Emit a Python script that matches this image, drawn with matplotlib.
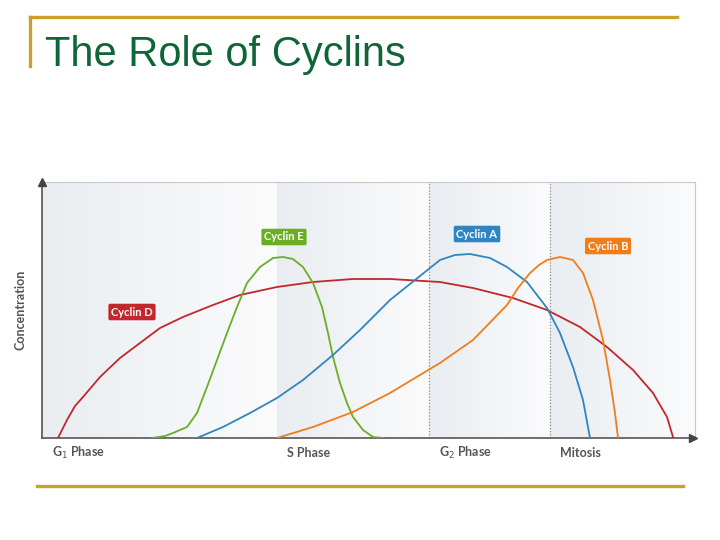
import numpy as np
import matplotlib
matplotlib.use("Agg")
import matplotlib.pyplot as plt
from matplotlib.lines import Line2D

# data (x = time along the cycle, y = concentration), arbitrary units
cyclin_d_x = [16, 21, 25, 33, 41, 58, 78, 98, 118, 141, 171, 198, 235, 271, 311, 348, 398, 431, 471, 505, 538, 565, 591, 611, 625, 631]
cyclin_d_y = [0, 10, 18, 32, 41, 61, 80, 95, 110, 121, 133, 143, 151, 156, 159, 159, 156, 150, 140, 128, 111, 91, 68, 45, 21, 1]

cyclin_e_x = [110, 123, 131, 145, 155, 165, 175, 185, 195, 205, 218, 231, 241, 251, 261, 271, 280, 286, 291, 298, 305, 311, 321, 331, 341]
cyclin_e_y = [0, 2, 5, 11, 25, 51, 78, 105, 131, 155, 171, 180, 181, 179, 171, 155, 131, 105, 81, 55, 35, 21, 8, 1, 0]

cyclin_a_x = [155, 181, 208, 235, 261, 291, 318, 348, 373, 398, 413, 428, 448, 465, 485, 505, 518, 531, 541, 548]
cyclin_a_y = [0, 11, 25, 40, 58, 83, 108, 138, 158, 178, 183, 184, 180, 171, 156, 130, 105, 71, 38, 0]

cyclin_b_x = [235, 271, 311, 348, 398, 431, 465, 476, 488, 497, 505, 518, 531, 541, 551, 561, 568, 573, 576]
cyclin_b_y = [0, 11, 26, 45, 75, 98, 133, 150, 165, 173, 178, 181, 178, 165, 138, 98, 58, 25, 0]

phase_edges = [0, 235, 387, 508, 653]
phase_labels = ["G$_1$ Phase", "S Phase", "G$_2$ Phase", "Mitosis"]

labels = ["Cyclin D", "Cyclin E", "Cyclin A", "Cyclin B"]
label_pos = [(90, 126), (242, 201), (435, 204), (566, 192)]
colors = ["#c1272d", "#6aaf23", "#2e86c1", "#ef7d1a"]

fig = plt.figure(figsize=(7.2, 5.4), dpi=100)
fig.patch.set_facecolor("white")

# slide decoration
gold = "#c9a02a"
fig.add_artist(Line2D([30 / 720, 677 / 720], [1 - 17 / 540] * 2, color=gold, lw=2.4))
fig.add_artist(Line2D([30 / 720] * 2, [1 - 17 / 540, 1 - 66 / 540], color=gold, lw=2.4))
fig.add_artist(Line2D([37 / 720, 683 / 720], [1 - 486 / 540] * 2, color=gold, lw=2.4))
fig.text(45 / 720, 1 - 66 / 540, "The Role of Cyclins", fontsize=30, color="#0e6638",
         family="Liberation Sans", va="baseline", ha="left")

ax = fig.add_axes([42 / 720, 102 / 540, 653 / 720, 256 / 540])
ax.set_xlim(0, 653)
ax.set_ylim(0, 256)

# shaded phase bands, lighter towards the right of each band
grad = np.linspace(0, 1, 256).reshape(1, -1)
cmap = matplotlib.colors.LinearSegmentedColormap.from_list("band", ["#e9edf1", "#fbfbfc"])
for i in range(len(phase_edges) - 1):
    ax.imshow(grad, extent=[phase_edges[i], phase_edges[i + 1], 0, 256], aspect="auto",
              cmap=cmap, zorder=0)
for xe in phase_edges[2:4]:
    ax.axvline(xe, color="#8a8a8a", lw=0.9, ls=(0, (1, 1.5)), zorder=1)

curves = [(cyclin_d_x, cyclin_d_y), (cyclin_e_x, cyclin_e_y),
          (cyclin_a_x, cyclin_a_y), (cyclin_b_x, cyclin_b_y)]
for (cx, cy), c in zip(curves, colors):
    ax.plot(cx, cy, color=c, lw=1.3, zorder=3, solid_joinstyle="round")

for lab, (lx, ly), c in zip(labels, label_pos, colors):
    ax.text(lx, ly, lab, color="white", fontsize=8, fontweight="bold", family="Lato",
            ha="center", va="center", zorder=5,
            bbox=dict(boxstyle="round,pad=0.25,rounding_size=0.15", fc=c, ec="none"))

for sp in ["top", "right"]:
    ax.spines[sp].set_color("#c8c8c8")
    ax.spines[sp].set_linewidth(0.8)
for sp in ["left", "bottom"]:
    ax.spines[sp].set_color("#555555")
    ax.spines[sp].set_linewidth(1.2)
ax.set_xticks([])
ax.set_yticks([])

# axis arrows
ax.plot(0, 256, marker="^", color="#444444", ms=6, clip_on=False, zorder=6)
ax.plot(651, 0, marker=">", color="#444444", ms=6, clip_on=False, zorder=6)

for xe, lab in zip(phase_edges[:4], phase_labels):
    ax.text(xe + 10, -15, lab, fontsize=9, fontweight="bold", color="#555555", family="Lato",
            ha="left", va="center")

ax.text(-21, 128, "Concentration", rotation=90, fontsize=9, fontweight="bold",
        color="#555555", family="Lato", ha="center", va="center")

fig.savefig("out.png", dpi=100)
